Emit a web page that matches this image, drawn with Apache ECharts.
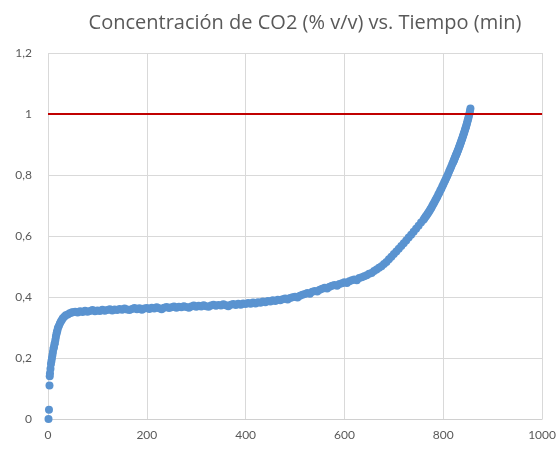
<!DOCTYPE html>
<html>
<head>
<meta charset="utf-8">
<script src="https://cdn.jsdelivr.net/npm/echarts@6/dist/echarts.min.js"></script>
<style>html,body{margin:0;padding:0;background:#fff}#c{width:559px;height:449px}</style>
</head>
<body>
<div id="c"></div>
<script>
var titulo = 'Concentración de CO2 (% v/v) vs. Tiempo (min)';
var limite = 1;
var xTicks = [0, 1000, 200];
var yTicks = [0, 1.2, 0.2];

var tiempoArranque = [1,2,3,3.5,4,5,6,7,8,9,10,11,12,13,14,15,16,17,18,19,20,22,24,26,28,30,33,36,40,44,48];
var co2Arranque = [0.00,0.03,0.11,0.14,0.15,0.165,0.18,0.19,0.20,0.21,0.22,0.23,0.235,0.245,0.25,0.26,0.27,0.278,0.285,0.29,0.298,0.305,0.313,0.32,0.325,0.33,0.335,0.34,0.343,0.347,0.349];

var tiempoMeseta = [50,55,60,65,70,75,80,85,90,95,100,105,110,115,120,125,130,135,140,145,150,155,160,165,170,175,180,185,190,195,200,205,210,215,220,225,230,235,240,245,250,255,260,265,270,275,280,285,290,295,300,305,310,315,320,325,330,335,340,345,350,355,360,365,370,375,380,385,390,395,400,405,410,415,420,425,430,435,440,445,450,455,460,465,470,475,480,485,490,495];
var co2Meseta = [0.350,0.352,0.349,0.353,0.351,0.355,0.352,0.354,0.357,0.353,0.356,0.354,0.358,0.355,0.357,0.360,0.356,0.359,0.357,0.361,0.358,0.362,0.359,0.357,0.361,0.364,0.360,0.363,0.358,0.362,0.364,0.361,0.365,0.362,0.366,0.363,0.360,0.365,0.367,0.364,0.366,0.369,0.365,0.368,0.366,0.370,0.367,0.365,0.369,0.372,0.368,0.371,0.369,0.373,0.370,0.368,0.372,0.375,0.371,0.374,0.372,0.376,0.373,0.370,0.375,0.377,0.374,0.378,0.375,0.379,0.377,0.380,0.378,0.382,0.379,0.383,0.381,0.385,0.383,0.387,0.385,0.389,0.387,0.391,0.389,0.393,0.395,0.392,0.397,0.399];

var tiempoSubida = [500,505,510,515,520,525,530,535,540,545,550,555,560,565,570,575,580,585,590,595,600,605,610,615,620,625,630,635,640,645,650,655,660,665,670,675,680,685,690,695,700,705,710,715,720,725,730,735,740,745,750,755];
var co2Subida = [0.401,0.398,0.404,0.407,0.410,0.413,0.411,0.417,0.420,0.418,0.424,0.427,0.430,0.428,0.434,0.437,0.439,0.437,0.443,0.445,0.448,0.446,0.452,0.455,0.457,0.455,0.462,0.465,0.468,0.471,0.476,0.479,0.485,0.490,0.496,0.501,0.508,0.515,0.524,0.532,0.541,0.549,0.558,0.567,0.576,0.585,0.595,0.604,0.614,0.624,0.634,0.644];

var tiempoFinal = [760,762,764,766,768,770,772,774,776,778,780,782,784,786,788,790,792,794,796,798,800,802,804,806,808,810,812,814,816,818,820,821,822,823,824,825,826,827,828,829,830,831,832,833,834,835,836,837,838,839,840,841,842,843,844,845,846,847,848,849,850,851,852,853,854,855];
var co2Final = [0.653,0.658,0.663,0.667,0.672,0.677,0.682,0.688,0.693,0.699,0.705,0.711,0.717,0.723,0.729,0.736,0.742,0.749,0.755,0.762,0.769,0.776,0.783,0.790,0.797,0.804,0.812,0.820,0.827,0.835,0.842,0.846,0.850,0.854,0.858,0.862,0.866,0.870,0.874,0.878,0.882,0.886,0.891,0.895,0.900,0.904,0.909,0.914,0.918,0.923,0.928,0.933,0.938,0.943,0.948,0.953,0.958,0.964,0.970,0.976,0.982,0.988,0.995,1.002,1.010,1.018];

var tiempo = [].concat(tiempoArranque, tiempoMeseta, tiempoSubida, tiempoFinal);
var co2 = [].concat(co2Arranque, co2Meseta, co2Subida, co2Final);
var puntos = tiempo.map(function (t, i) { return [t, co2[i]]; });

var gris = '#595959';
var chart = echarts.init(document.getElementById('c'), null, {renderer: 'canvas'});
chart.setOption({
  animation: false,
  backgroundColor: '#ffffff',
  title: {
    text: titulo,
    left: 300, top: 8, textAlign: 'center',
    textStyle: {fontFamily: 'Open Sans', fontSize: 20, fontWeight: 'normal', color: gris}
  },
  grid: {left: 48, right: 16, top: 53, bottom: 30, containLabel: false},
  xAxis: {
    type: 'value', min: xTicks[0], max: xTicks[1], interval: xTicks[2],
    axisLine: {show: true, lineStyle: {color: '#d0d0d0'}},
    axisTick: {show: false},
    axisLabel: {color: gris, fontSize: 12, fontFamily: 'Lato', margin: 10,
      formatter: function (v) { return String(v); }},
    splitLine: {show: true, lineStyle: {color: '#d9d9d9', width: 1}}
  },
  yAxis: {
    type: 'value', min: yTicks[0], max: yTicks[1], interval: yTicks[2],
    axisLine: {show: false},
    axisTick: {show: false},
    axisLabel: {color: gris, fontSize: 12, fontFamily: 'Lato', margin: 16,
      formatter: function (v) { return String(Math.round(v * 10) / 10).replace('.', ','); }},
    splitLine: {show: true, lineStyle: {color: '#d9d9d9', width: 1}}
  },
  series: [{
    type: 'scatter',
    data: puntos,
    symbolSize: 8,
    itemStyle: {color: '#5a93d0', opacity: 1},
    emphasis: {disabled: true},
    markLine: {
      silent: true, symbol: 'none', label: {show: false},
      lineStyle: {color: '#c00000', width: 2, type: 'solid'},
      data: [{yAxis: limite}]
    }
  }]
});
</script>
</body>
</html>
